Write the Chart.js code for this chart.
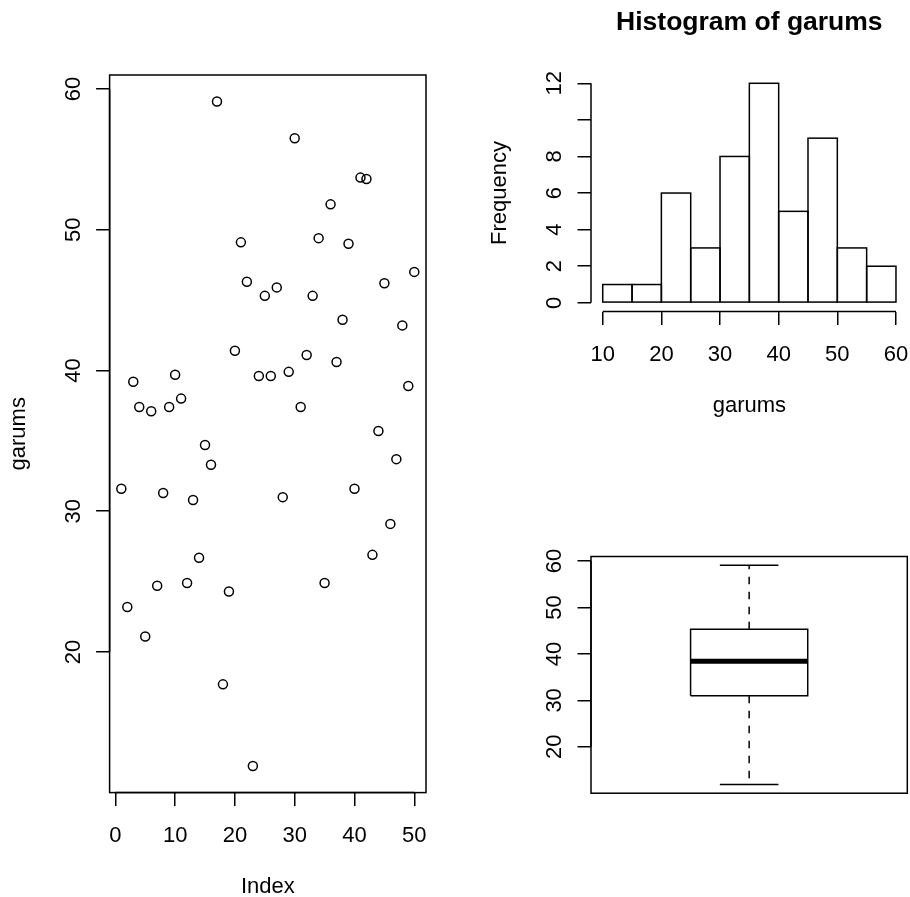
<!DOCTYPE html>
<html>
<head>
<meta charset="utf-8">
<script src="https://cdn.jsdelivr.net/npm/chart.js@4.4.1/dist/chart.umd.min.js"></script>
<style>
  html, body { margin: 0; padding: 0; background: #fff; }
  #wrap { position: relative; width: 910px; height: 897px; }
  canvas { position: absolute; }
</style>
</head>
<body>
<div id="wrap">
  <canvas id="idx" width="455" height="897" style="left:0;top:0"></canvas>
  <canvas id="hist" width="455" height="448" style="left:455px;top:0"></canvas>
  <canvas id="box" width="455" height="449" style="left:455px;top:448px"></canvas>
</div>
<script>
// garums values in index order
const garums = [31.6, 23.2, 39.2, 37.4, 21.1, 37.1, 24.7, 31.3, 37.4, 39.7,
                38.0, 24.9, 30.8, 26.7, 34.7, 33.3, 59.1, 17.7, 24.3, 41.4,
                49.1, 46.3, 11.9, 39.6, 45.3, 39.6, 45.9, 31.0, 39.9, 56.5,
                37.4, 41.1, 45.3, 49.4, 24.9, 51.8, 40.6, 43.6, 49.0, 31.6,
                53.7, 53.6, 26.9, 35.7, 46.2, 29.1, 33.7, 43.2, 38.9, 47.0];

// histogram
const histBreaks = [10, 15, 20, 25, 30, 35, 40, 45, 50, 55, 60];
const histCounts = [1, 1, 6, 3, 8, 12, 5, 9, 3, 2];

// tick labels
const indexTicks = [0, 10, 20, 30, 40, 50];
const garumsTicks = [20, 30, 40, 50, 60];
const histXTicks = [10, 20, 30, 40, 50, 60];
const freqTicks = [0, 2, 4, 6, 8, 10, 12];
const freqLabels = ['0', '2', '4', '6', '8', '', '12'];

const FONT = '"Liberation Sans", Arial, Helvetica, sans-serif';
const LW = 1.5;

// R pads axis ranges by 4%
function ext(lo, hi) {
  const d = (hi - lo) * 0.04;
  return [lo - d, hi + d];
}

// Tukey five-number summary, as boxplot() uses
function fivenum(vals) {
  const x = vals.slice().sort((a, b) => a - b);
  const n = x.length;
  const n4 = Math.floor((n + 3) / 2) / 2;
  const d = [1, n4, (n + 1) / 2, n + 1 - n4, n];
  return d.map(p => (x[Math.floor(p) - 1] + x[Math.ceil(p) - 1]) / 2);
}

// R-like axes: box, axis lines from first to last tick, rotated y labels, titles
const rStyle = {
  id: 'rStyle',
  afterDatasetsDraw(chart, args, o) {
    const ctx = chart.ctx, a = chart.chartArea;
    const xs = chart.scales.x, ys = chart.scales.y;
    ctx.save();
    ctx.strokeStyle = '#000';
    ctx.fillStyle = '#000';
    ctx.lineWidth = LW;
    if (o.box) ctx.strokeRect(a.left, a.top, a.right - a.left, a.bottom - a.top);

    ctx.font = '22px ' + FONT;
    ctx.textAlign = 'center';
    ctx.textBaseline = 'alphabetic';

    if (o.xTicks) {
      ctx.beginPath();
      ctx.moveTo(xs.getPixelForValue(o.xTicks[0]), a.bottom);
      ctx.lineTo(xs.getPixelForValue(o.xTicks[o.xTicks.length - 1]), a.bottom);
      ctx.stroke();
      o.xTicks.forEach(v => ctx.fillText(String(v), xs.getPixelForValue(v), a.bottom + 49));
    }
    if (o.yTicks) {
      ctx.beginPath();
      ctx.moveTo(a.left, ys.getPixelForValue(o.yTicks[0]));
      ctx.lineTo(a.left, ys.getPixelForValue(o.yTicks[o.yTicks.length - 1]));
      ctx.stroke();
      o.yTicks.forEach((v, i) => {
        const lab = o.yLabels ? o.yLabels[i] : String(v);
        ctx.save();
        ctx.translate(a.left - 30, ys.getPixelForValue(v));
        ctx.rotate(-Math.PI / 2);
        ctx.fillText(lab, 0, 0);
        ctx.restore();
      });
    }
    if (o.xTitle) ctx.fillText(o.xTitle, (a.left + a.right) / 2, a.bottom + 100.5);
    if (o.yTitle) {
      ctx.save();
      ctx.translate(a.left - 85, (a.top + a.bottom) / 2);
      ctx.rotate(-Math.PI / 2);
      ctx.fillText(o.yTitle, 0, 0);
      ctx.restore();
    }
    if (o.title) {
      ctx.font = 'bold 26.5px ' + FONT;
      ctx.fillText(o.title, (a.left + a.right) / 2, a.top - 44.5);
    }
    ctx.restore();
  }
};

// hist() draws every rectangle with a centred border
const histOutline = {
  id: 'histOutline',
  afterDatasetsDraw(chart) {
    const ctx = chart.ctx;
    ctx.save();
    ctx.strokeStyle = '#000';
    ctx.lineWidth = LW;
    chart.getDatasetMeta(0).data.forEach(bar => {
      const p = bar.getProps(['x', 'y', 'base', 'width'], true);
      ctx.strokeRect(p.x - p.width / 2, p.y, p.width, p.base - p.y);
    });
    ctx.restore();
  }
};

function rScale(min, max, ticks, fit, isX, show) {
  return {
    type: 'linear',
    display: show !== false,
    min: min,
    max: max,
    offset: false,
    afterBuildTicks: s => { s.ticks = ticks.map(v => ({ value: v })); },
    afterFit: s => { if (isX) s.height = fit; else s.width = fit; },
    ticks: { display: false },
    grid: { display: true, offset: false, drawOnChartArea: false, drawTicks: true,
            tickLength: 13.5, color: '#000', lineWidth: LW },
    border: { display: false }
  };
}

function baseOpts(padding, scales, r) {
  return {
    responsive: false,
    animation: false,
    devicePixelRatio: 1,
    layout: { padding: padding },
    plugins: { legend: { display: false }, tooltip: { enabled: false }, rStyle: r },
    scales: scales
  };
}

// left panel: garums against index
const [ixMin, ixMax] = ext(1, garums.length);
const [gMin, gMax] = ext(Math.min(...garums), Math.max(...garums));

new Chart(document.getElementById('idx'), {
  type: 'scatter',
  data: {
    datasets: [{
      data: garums.map((v, i) => ({ x: i + 1, y: v })),
      pointStyle: 'circle',
      pointRadius: 4.5,
      pointBorderWidth: 1.5,
      pointBorderColor: '#000',
      pointBackgroundColor: 'rgba(0,0,0,0)'
    }]
  },
  options: baseOpts(
    { top: 75, right: 29, left: 0, bottom: 0 },
    { x: rScale(ixMin, ixMax, indexTicks, 104.4, true),
      y: rScale(gMin, gMax, garumsTicks, 109.6, false) },
    { box: true, xTicks: indexTicks, yTicks: garumsTicks, xTitle: 'Index', yTitle: 'garums' }
  ),
  plugins: [rStyle]
});

// top right: histogram
const [hxMin, hxMax] = ext(histBreaks[0], histBreaks[histBreaks.length - 1]);
const [hyMin, hyMax] = ext(0, Math.max(...histCounts));

new Chart(document.getElementById('hist'), {
  type: 'bar',
  data: {
    datasets: [{
      data: histCounts.map((c, i) => ({ x: (histBreaks[i] + histBreaks[i + 1]) / 2, y: c })),
      backgroundColor: '#fff',
      borderWidth: 0,
      barPercentage: 1,
      categoryPercentage: 1
    }]
  },
  options: baseOpts(
    { top: 74.5, right: 2.3, left: 0, bottom: 0 },
    { x: rScale(hxMin, hxMax, histXTicks, 136.4, true),
      y: rScale(hyMin, hyMax, freqTicks, 136, false) },
    { xTicks: histXTicks, yTicks: freqTicks, yLabels: freqLabels,
      xTitle: 'garums', yTitle: 'Frequency', title: 'Histogram of garums' }
  ),
  plugins: [histOutline, rStyle]
});

// bottom right: boxplot
const [bMin, bQ1, bMed, bQ3, bMax] = fivenum(garums);
const [byMin, byMax] = ext(bMin, bMax);
const [bxMin, bxMax] = ext(0.5, 1.5);
const boxHalf = 0.2, stapleHalf = 0.1;

function seg(points, extra) {
  return Object.assign({
    data: points,
    showLine: true,
    borderColor: '#000',
    borderWidth: LW,
    pointRadius: 0,
    fill: false,
    tension: 0,
    borderCapStyle: 'butt'
  }, extra || {});
}

new Chart(document.getElementById('box'), {
  type: 'scatter',
  data: {
    datasets: [
      seg([{ x: 1, y: bQ3 }, { x: 1, y: bMax }], { borderDash: [7.5, 7.5] }),
      seg([{ x: 1, y: bQ1 }, { x: 1, y: bMin }], { borderDash: [7.5, 7.5] }),
      seg([{ x: 1 - stapleHalf, y: bMax }, { x: 1 + stapleHalf, y: bMax }]),
      seg([{ x: 1 - stapleHalf, y: bMin }, { x: 1 + stapleHalf, y: bMin }]),
      seg([{ x: 1 - boxHalf, y: bQ1 }, { x: 1 + boxHalf, y: bQ1 }, { x: 1 + boxHalf, y: bQ3 },
           { x: 1 - boxHalf, y: bQ3 }, { x: 1 - boxHalf, y: bQ1 }], { borderJoinStyle: 'miter' }),
      seg([{ x: 1 - boxHalf, y: bMed }, { x: 1 + boxHalf, y: bMed }], { borderWidth: 5 })
    ]
  },
  options: baseOpts(
    { top: 108.5, right: 2.7, left: 0, bottom: 103.8 },
    { x: rScale(bxMin, bxMax, [], 0, true, false),
      y: rScale(byMin, byMax, garumsTicks, 136, false) },
    { box: true, yTicks: garumsTicks }
  ),
  plugins: [rStyle]
});
</script>
</body>
</html>
